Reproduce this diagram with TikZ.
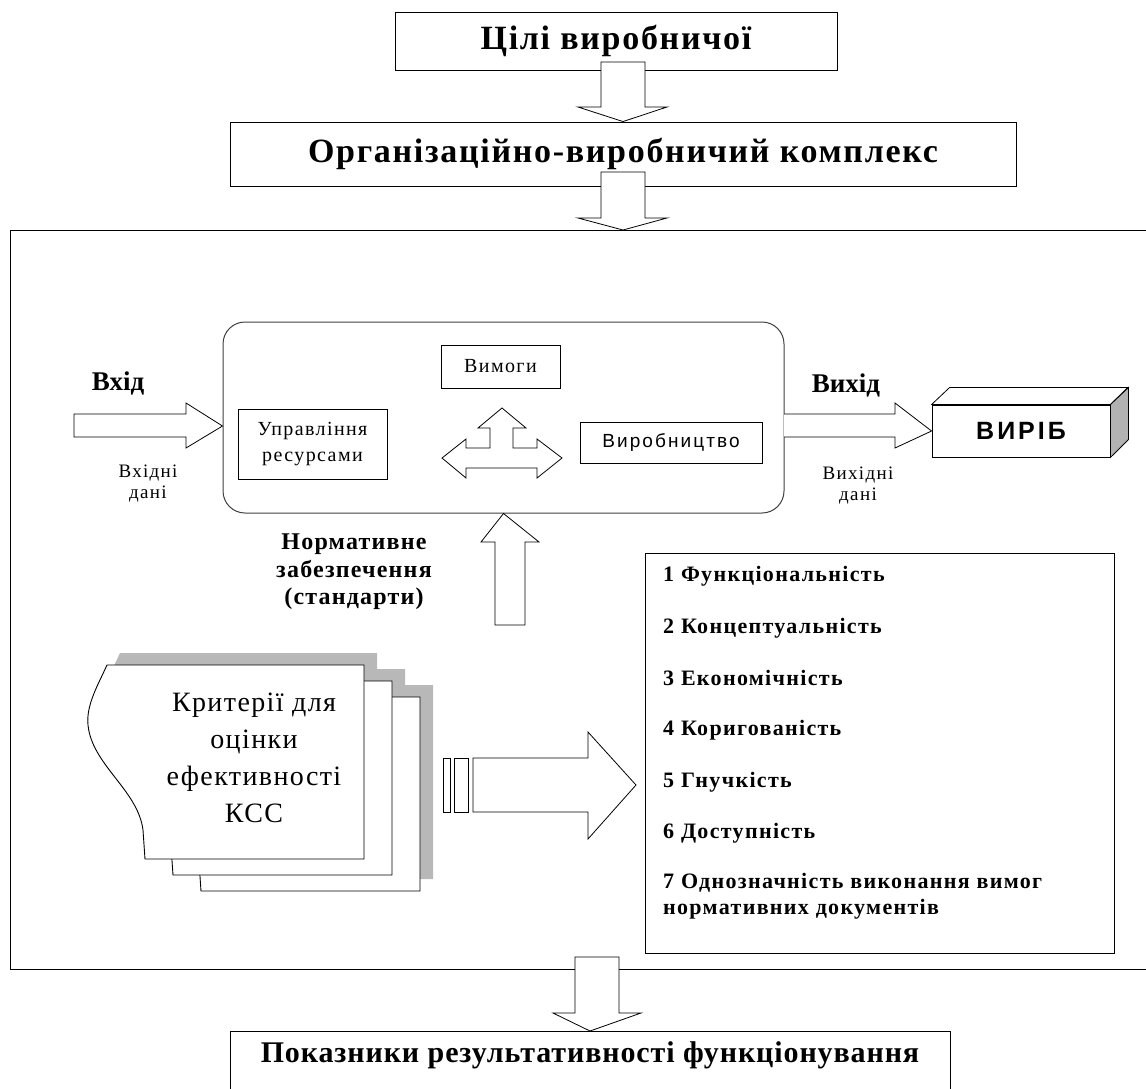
\documentclass[tikz,border=0pt]{standalone}
\usepackage{fontspec}
\setmainfont{Liberation Serif}
\setsansfont{Liberation Sans}
\begin{document}
\begin{tikzpicture}[x=1pt,y=-1pt,
  box/.style={draw, line width=0.9pt, fill=white, inner sep=0pt},
  barrow/.style={draw, line width=0.8pt, fill=white, line join=miter},
  titlefont/.style={font=\bfseries\fontsize{34}{38}\selectfont\addfontfeature{LetterSpace=5}},
  boldlabel/.style={font=\bfseries\fontsize{27}{30}\selectfont},
  normfont/.style={font=\bfseries\fontsize{24}{27.5}\selectfont\addfontfeature{LetterSpace=5}},
  smalllabel/.style={font=\fontsize{19}{21}\selectfont\addfontfeature{LetterSpace=7}},
  innerfont/.style={font=\fontsize{20}{26}\selectfont\addfontfeature{LetterSpace=7}},
  item/.style={font=\bfseries\fontsize{22}{26}\selectfont\addfontfeature{LetterSpace=6}, inner sep=0pt},
  shadowc/.style={fill=black!28}
]
\useasboundingbox (0,0) rectangle (1146,1088);
\fill[white] (0,0) rectangle (1146,1088);

% outer frame (open on the right)
\draw[line width=1pt] (1150,230) -- (10,230) -- (10,969) -- (1150,969);

% top boxes
\node[box, titlefont, minimum width=442, minimum height=58] (goal) at (616,41) {Цілі виробничої};
\node[box, titlefont, minimum width=786, minimum height=64] (complex) at (623,154) {Організаційно-виробничий комплекс};

% block arrows down
\draw[barrow] (601,62) -- (645,62) -- (645,107) -- (667,107) -- (complex.north) -- (578,107) -- (601,107) -- cycle;
\draw[barrow] (601,172) -- (645,172) -- (645,218) -- (667,218) -- (623,230) -- (578,218) -- (601,218) -- cycle;

% process rounded box
\node[draw=black!75, line width=1pt, rounded corners=22, minimum width=561, minimum height=191] (process) at (503.5,417.5) {};
\node[box, innerfont, minimum width=119, minimum height=43] (req) at (500.5,366.5) {Вимоги};
\node[box, innerfont, align=center, minimum width=149, minimum height=70] (res) at (312.5,444) {Управління\\ресурсами};
\node[box, font=\sffamily\fontsize{19}{22}\selectfont\addfontfeature{LetterSpace=11}, minimum width=182, minimum height=41] (prod) at (671,442.5) {Виробництво};

% three-way arrow
\draw[barrow] (442,458) -- (466,439) -- (466,448) -- (490,448) -- (490,428) -- (478,428) -- (502,408)
  -- (526,428) -- (513,428) -- (513,448) -- (537,448) -- (537,439) -- (562,458) -- (537,478)
  -- (537,468) -- (466,468) -- (466,478) -- cycle;

% input / output
\node[boldlabel] (inlbl) at (118,383) {Вхід};
\node[smalllabel, align=center] (indata) at (148,484) {Вхідні\\дані};
\draw[barrow] (74,414) -- (186,414) -- (186,403) -- (process.west |- 0,426) -- (186,448) -- (186,437) -- (74,437) -- cycle;

\node[boldlabel] (outlbl) at (846,385) {Вихід};
\node[smalllabel, align=center] (outdata) at (858,486) {Вихідні\\дані};

% product 3D box
\node[box, font=\sffamily\bfseries\fontsize{25}{28}\selectfont\addfontfeature{LetterSpace=12}, minimum width=178, minimum height=52] (product) at (1021,431) {ВИРІБ};
\draw[line width=0.8pt, fill=white] (product.north west) -- ++(18,-17) -- ++(178,0) -- (product.north east) -- cycle;
\draw[line width=0.8pt, fill=black!30] (product.north east) -- ++(18,-17) -- ++(0,52) -- (product.south east) -- cycle;

\fill[white] (784,414) -- (895,414) -- (895,403) -- (product.west) -- (895,448) -- (895,437) -- (784,437) -- cycle;
\draw[line width=0.8pt, line join=miter] (784,414) -- (895,414) -- (895,403) -- (product.west) -- (895,448) -- (895,437) -- (784,437);

% normative support
\node[normfont, align=center] (norm) at (354,572) {Нормативне\\забезпечення\\(стандарти)};
\draw[barrow] (495,625) -- (495,542) -- (481,542) -- (process.south) -- (539,542) -- (525,542) -- (525,625) -- cycle;

% document stack
\def\pagepath{(107,665) -- (364,665) -- (364,859) -- (145,859) -- (143,830) .. controls (138,790) and (92,765) .. (88,725) .. controls (86,705) and (98,685) .. (107,665) -- cycle}
\begin{scope}[shift={(69,20)}]\fill[shadowc] \pagepath;\end{scope}
\begin{scope}[shift={(41,4)}]\fill[shadowc] \pagepath;\end{scope}
\begin{scope}[shift={(13,-12)}]\fill[shadowc] \pagepath;\end{scope}
\begin{scope}[shift={(56,32)}]\draw[line width=0.9pt, fill=white] \pagepath;\end{scope}
\begin{scope}[shift={(28,16)}]\draw[line width=0.9pt, fill=white] \pagepath;\end{scope}
\draw[line width=0.9pt, fill=white] \pagepath;
\node[font=\fontsize{28}{37}\selectfont\addfontfeature{LetterSpace=5}, align=center] (crit) at (254,758) {Критерії для\\оцінки\\ефективності\\КСС};

% transfer arrow
\draw[line width=0.8pt, fill=white] (443,758) rectangle (450,812);
\draw[line width=0.8pt, fill=white] (454,758) rectangle (468,812);
\draw[barrow] (473,758) -- (588,758) -- (588,732) -- (636,785) -- (588,839) -- (588,812) -- (473,812) -- cycle;

% criteria list
\node[box, minimum width=469, minimum height=400] (list) at (879.5,753) {};
\node[item, anchor=west] (c1) at (663,576) {1 Функціональність};
\node[item, anchor=west] (c2) at (663,628) {2 Концептуальність};
\node[item, anchor=west] (c3) at (663,678) {3 Економічність};
\node[item, anchor=west] (c4) at (663,730) {4 Коригованість};
\node[item, anchor=west] (c5) at (663,782) {5 Гнучкість};
\node[item, anchor=west] (c6) at (663,833) {6 Доступність};
\node[item, anchor=west, align=left] (c7) at (663,896) {7 Однозначність виконання вимог\\нормативних документів};

% result
\node[box, minimum width=720, minimum height=70, anchor=north] (result) at (590,1031) {};
\node[font=\bfseries\fontsize{30}{34}\selectfont\addfontfeature{LetterSpace=3}] (resulttext) at (590,1055) {Показники результативності функціонування};
\draw[barrow] (575,957) -- (619,957) -- (619,1013) -- (641,1013) -- (result.north) -- (553,1013) -- (575,1013) -- cycle;
\end{tikzpicture}
\end{document}
